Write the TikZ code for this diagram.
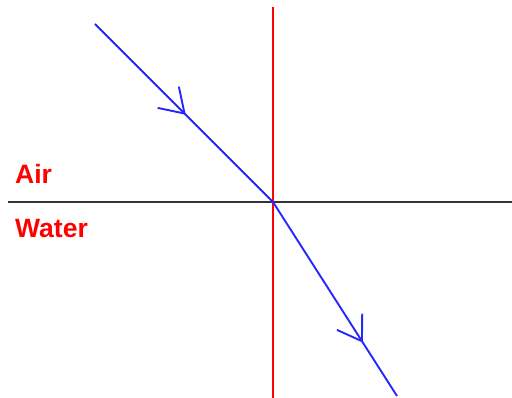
\documentclass[tikz,border=0pt]{standalone}
\usepackage{fontspec}
\setmainfont{Liberation Sans}
\usetikzlibrary{arrows.meta,decorations.markings}

\begin{document}
\begin{tikzpicture}
[
	x=1pt,y=-1pt,
	ray/.style={blue!85!white,line width=1.9pt},
	barb/.tip={Straight Barb[length=23pt,width=30pt,line width=1.9pt]},
	medium/.style={red,font=\fontsize{26.5}{30}\selectfont\bfseries,anchor=base west,inner sep=0pt}
]
	\useasboundingbox (0,0) rectangle (512,398);

	% surface and normal
	\coordinate (o) at (273,202);
	\coordinate (sl) at (8,202);
	\coordinate (sr) at (512,202);
	\coordinate (nt) at (273,7);
	\coordinate (nb) at (273,398);
	\draw[line width=2.2pt,black!80] (sl) -- (sr);
	\draw[red,line width=1.9pt] (nt) -- (nb);

	% labels
	\node[medium] (air) at (15,184) {Air};
	\node[medium] (water) at (15,238) {Water};

	% incident and refracted ray
	\coordinate (src) at (95,24);
	\coordinate (dst) at (397,396);
	\draw[ray,postaction={decorate},decoration={markings,
		mark=at position 0.51 with {\arrow[blue!85!white]{barb}}}] (src) -- (o);
	\draw[ray,postaction={decorate},decoration={markings,
		mark=at position 0.725 with {\arrow[blue!85!white]{barb}}}] (o) -- (dst);

\end{tikzpicture}
\end{document}
